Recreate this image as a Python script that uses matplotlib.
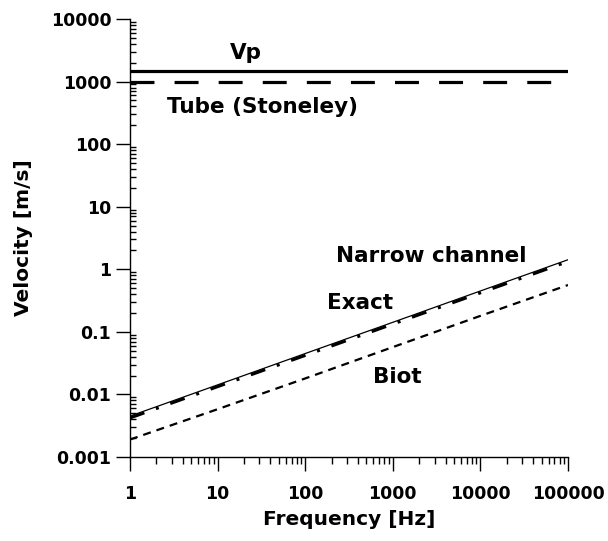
import matplotlib.pyplot as plt

# values (velocity vs frequency, log-log)
freq = [1, 10, 100, 1000, 10000, 100000]
narrow = [0.0045, 0.0142, 0.045, 0.142, 0.45, 1.42]
exact = [0.0042, 0.0133, 0.042, 0.133, 0.42, 1.33]
biot = [0.0019, 0.0058, 0.018, 0.057, 0.18, 0.56]

vp = 1500
tube = 1000
flat_x = [1, 100000]

xticks = [1, 10, 100, 1000, 10000, 100000]
xticklabels = ["1", "10", "100", "1000", "10000", "100000"]
yticks = [0.001, 0.01, 0.1, 1, 10, 100, 1000, 10000]
yticklabels = ["0.001", "0.01", "0.1", "1", "10", "100", "1000", "10000"]

plt.rcParams["font.family"] = ["DejaVu Sans"]
plt.rcParams["font.weight"] = "bold"

fig = plt.figure(figsize=(6.08, 5.41), dpi=100)
ax = fig.add_axes([0.2138, 0.1553, 0.7204, 0.8096])

ax.plot(flat_x, [vp, vp], color="black", lw=2.3)
ax.plot(flat_x, [tube, tube], color="black", lw=2.3, dashes=(7.5, 6.3))
ax.plot(freq, narrow, color="black", lw=0.9)
ax.plot(freq, exact, color="black", lw=2.2, dashes=(5, 4, 1, 4))
ax.plot(freq, biot, color="black", lw=1.6, dashes=(3.6, 2.7))

ax.set_xscale("log")
ax.set_yscale("log")
ax.set_xlim(1, 100000)
ax.set_ylim(0.001, 10000)
ax.set_xticks(xticks)
ax.set_xticklabels(xticklabels)
ax.set_yticks(yticks)
ax.set_yticklabels(yticklabels)

for s in ["top", "right"]:
    ax.spines[s].set_visible(False)
ax.spines["left"].set_linewidth(1.0)
ax.spines["bottom"].set_linewidth(1.0)

ax.tick_params(axis="both", which="major", direction="out", length=10, width=1,
               labelsize=12.5)
ax.tick_params(axis="x", which="major", pad=10)
ax.tick_params(axis="x", which="minor", direction="out", length=5, width=1)
ax.tick_params(axis="y", which="minor", direction="in", length=4, width=1)
for lab in ax.get_xticklabels() + ax.get_yticklabels():
    lab.set_fontweight("bold")

ax.set_xlabel("Frequency [Hz]", fontsize=14.5, fontweight="bold", labelpad=5)
ax.set_ylabel("Velocity [m/s]", fontsize=14.5, fontweight="bold", labelpad=13)

ax.text(21, 2840, "Vp", fontsize=15.5, fontweight="bold", ha="center", va="center")
ax.text(2.64, 390, "Tube (Stoneley)", fontsize=15.5, fontweight="bold", ha="left", va="center")
ax.text(2730, 1.63, "Narrow channel", fontsize=15.5, fontweight="bold", ha="center", va="center")
ax.text(423, 0.288, "Exact", fontsize=15.5, fontweight="bold", ha="center", va="center")
ax.text(1117, 0.019, "Biot", fontsize=15.5, fontweight="bold", ha="center", va="center")

fig.savefig("out.png", dpi=100)
